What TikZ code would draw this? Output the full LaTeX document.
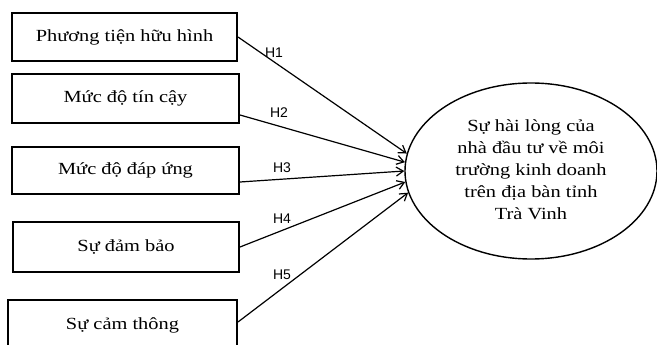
\documentclass[tikz,border=0pt]{standalone}
\usepackage{fontspec}
\setmainfont{Liberation Serif}
\newfontfamily\hfont{Liberation Sans}
\usetikzlibrary{arrows.meta,shapes.geometric}
\newcommand{\wtext}[1]{\scalebox{1.2}[1]{#1}}
\begin{document}
\begin{tikzpicture}[x=1pt,y=-1pt,
  factor/.style={draw,line width=2pt,inner sep=0pt,font=\fontsize{17}{22}\selectfont},
  goal/.style={draw,ellipse,line width=1.4pt,minimum width=252pt,minimum height=176pt,inner sep=0pt,font=\fontsize{17}{22}\selectfont},
  link/.style={line width=1.2pt,-{Straight Barb[length=7pt,width=9pt,line width=1.2pt]}},
  hlabel/.style={font=\hfont\fontsize{14}{14}\selectfont,inner sep=0pt}]
\useasboundingbox (0,0) rectangle (657,345);
\clip (0,0) rectangle (657,345);
\node[factor,minimum width=225pt,minimum height=48pt] (b1) at (124.5,37) {\wtext{Phương tiện hữu hình}};
\node[factor,minimum width=227pt,minimum height=49pt] (b2) at (125.5,98.5) {\wtext{Mức độ tín cậy}};
\node[factor,minimum width=227pt,minimum height=47pt] (b3) at (125.5,170.5) {\wtext{Mức độ đáp ứng}};
\node[factor,minimum width=226pt,minimum height=50pt] (b4) at (126,247) {\wtext{Sự đảm bảo}};
\node[factor,minimum width=229pt,minimum height=50pt] (b5) at (122.5,325) {\wtext{Sự cảm thông}};
\node[goal] (el) at (531,171) {\wtext{\begin{tabular}{@{}c@{}}Sự hài lòng của\\ nhà đầu tư về môi\\ trường kinh doanh\\ trên địa bàn tỉnh\\ Trà Vinh\end{tabular}}};
\draw[link] (b1.east) -- (el.172.6);
\draw[link] ([yshift=-16.5pt]b2.east) -- (el.176.8);
\draw[link] ([yshift=-11.5pt]b3.east) -- (el.180.9);
\draw[link] (b4.east) -- (el.185.5);
\draw[link] ([yshift=3pt]b5.east) -- (el.190);
\node[hlabel] (h1) at (274,53) {H1};
\node[hlabel] (h2) at (279,113) {H2};
\node[hlabel] (h3) at (282,168) {H3};
\node[hlabel] (h4) at (282,219) {H4};
\node[hlabel] (h5) at (282,275) {H5};
\end{tikzpicture}
\end{document}
